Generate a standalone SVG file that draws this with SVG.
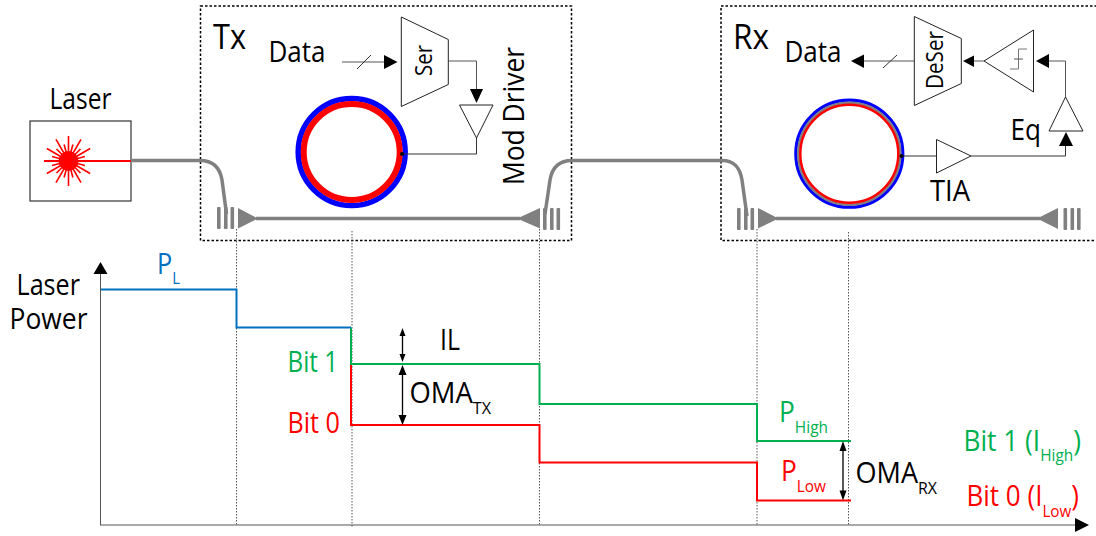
<svg xmlns="http://www.w3.org/2000/svg" xmlns:xlink="http://www.w3.org/1999/xlink" width="1096" height="536" viewBox="0 0 1096 536">
<style>
text{font-family:"Open Sans","Noto Sans",sans-serif;fill:#000}
.s27{font-size:29px}.s16{font-size:17px}.s21{font-size:23px}
tspan.sub{font-size:17px}
.g{fill:#00b050}.r{fill:#f00}.b{fill:#0070c0}
.box{fill:none;stroke:#000;stroke-width:1.5;stroke-dasharray:2.5 2}
.fib{fill:none;stroke:#808080;stroke-width:3.5}
.gc{fill:#808080}
.el{fill:#fff;stroke:#222;stroke-width:1}
.w{fill:none;stroke:#333;stroke-width:1}
.w2{fill:none;stroke:#555;stroke-width:1}
.ah{fill:#000}
.dot{fill:none;stroke:#555;stroke-width:1;stroke-dasharray:1.5 1.5}
.lvl{fill:none;stroke-width:2}
.ray{stroke:#f00;stroke-width:1.6}
</style>
<defs>
<g id="bars"><rect x="0" y="0" width="3.6" height="22" rx="1"/><rect x="7" y="0" width="3.6" height="22" rx="1"/><rect x="13.5" y="0" width="3.6" height="22" rx="1"/></g>
</defs>

<g id="tx-box"><rect class="box" x="200.500" y="6" width="371" height="234.500"/>
<text x="213" y="49" style="font-size:35px" textLength="33" lengthAdjust="spacingAndGlyphs">Tx</text></g>
<g id="rx-box"><rect class="box" x="721" y="6" width="400" height="234.500"/>
<text x="733" y="49" style="font-size:35px" textLength="36" lengthAdjust="spacingAndGlyphs">Rx</text></g>

<g id="tx-ring">
<circle cx="351.700" cy="152" r="53.500" fill="none" stroke="#00f" stroke-width="5.500"/>
<circle cx="351.700" cy="152" r="48" fill="#fff" stroke="#f00" stroke-width="6"/>
</g>
<g id="rx-ring">
<circle cx="849.300" cy="153.700" r="53.500" fill="none" stroke="#00f" stroke-width="3.200"/>
<circle cx="849.300" cy="153.700" r="51" fill="none" stroke="#808080" stroke-width="2.500"/>
<circle cx="849.300" cy="153.700" r="49" fill="#fff" stroke="#f00" stroke-width="2.500"/>
</g>

<g id="laser">
<rect x="30" y="121" width="101" height="80" fill="#fff" stroke="#333" stroke-width="1.200"/>
<text class="s27" x="49.500" y="109" textLength="62" lengthAdjust="spacingAndGlyphs">Laser</text>
<g transform="translate(68.500,161)">
<circle r="10" fill="#f00"/>
<line class="ray" x2="25"/><line class="ray" x2="25" transform="rotate(30)"/><line class="ray" x2="25" transform="rotate(60)"/><line class="ray" x2="25" transform="rotate(90)"/><line class="ray" x2="25" transform="rotate(120)"/><line class="ray" x2="25" transform="rotate(150)"/><line class="ray" x2="25" transform="rotate(210)"/><line class="ray" x2="25" transform="rotate(240)"/><line class="ray" x2="25" transform="rotate(270)"/><line class="ray" x2="25" transform="rotate(300)"/><line class="ray" x2="25" transform="rotate(330)"/>
<line class="ray" x2="17" transform="rotate(15)"/><line class="ray" x2="17" transform="rotate(45)"/><line class="ray" x2="17" transform="rotate(75)"/><line class="ray" x2="17" transform="rotate(105)"/><line class="ray" x2="17" transform="rotate(135)"/><line class="ray" x2="17" transform="rotate(165)"/><line class="ray" x2="17" transform="rotate(195)"/><line class="ray" x2="17" transform="rotate(225)"/><line class="ray" x2="17" transform="rotate(255)"/><line class="ray" x2="17" transform="rotate(285)"/><line class="ray" x2="17" transform="rotate(315)"/><line class="ray" x2="17" transform="rotate(345)"/>
</g>
<line x1="44" y1="161" x2="131" y2="161" stroke="#f00" stroke-width="2"/>
</g>

<g id="connectors">
<path class="fib" d="M131 160.500H200C213 160.500 220 168 222 180L226.500 214"/>
<path class="fib" d="M545 214L550 180C552 168 559 160.500 572 160.500H722C735 160.500 740 168 742 180L747 216"/>
<path class="fib" d="M256 218.500H520"/>
<path class="fib" d="M776 218.500H1040"/>

<path class="w2" d="M342 62H385"/><path class="w" d="M357 69L371 55"/><path class="ah" d="M397.500 62L384 55V69Z"/>
<path class="w2" d="M448.500 61H476.500V92"/><path class="ah" d="M476.500 103L470 89H483Z"/>
<path class="w" d="M476.500 138V154H402"/>
<circle class="ah" cx="402" cy="154" r="2"/>

<path class="w2" d="M914 61H862"/><path class="w" d="M883 68L897 55"/><path class="ah" d="M851 61L864 54.500V68Z"/>
<path class="w2" d="M984 61H972"/><path class="ah" d="M963 61L974 55.500V67Z"/>
<path class="w2" d="M1047 61H1065.500V97"/><path class="ah" d="M1036 61L1049 54V68Z"/>
<path class="w" d="M971 156H1065.500V144"/><path class="ah" d="M1066 132L1059 146H1073Z"/>
<path class="w" d="M936.500 156H901.500"/>
<circle class="ah" cx="901.500" cy="156" r="2"/>
</g>

<g id="tx-grating-left" class="gc"><use xlink:href="#bars" href="#bars" x="217" y="207"/><path d="M238 208L258 218.500L238 228.500Z"/></g>
<g id="tx-grating-right" class="gc"><use xlink:href="#bars" href="#bars" x="543" y="208"/><path d="M540 208L517 218.500L540 228.500Z"/></g>
<g id="rx-grating-left" class="gc"><use xlink:href="#bars" href="#bars" x="737" y="208"/><path d="M758 208L778.500 218.500L758 228.500Z"/></g>
<g id="rx-grating-right" class="gc"><use xlink:href="#bars" href="#bars" x="1063.500" y="208"/><path d="M1058 208L1037 218.500L1058 229Z"/></g>

<g id="tx-data"><text class="s27" x="268.500" y="62" textLength="57" lengthAdjust="spacingAndGlyphs">Data</text></g>
<g id="ser"><path class="el" d="M401.300 17L448.300 39.500V84.500L401.300 106.500Z"/>
<text class="s21" transform="translate(432,76) rotate(-90)" textLength="31" lengthAdjust="spacingAndGlyphs">Ser</text></g>
<g id="mod-driver"><path class="el" d="M459.500 105H493L476.500 138Z"/>
<text class="s27" transform="translate(524,185) rotate(-90)" textLength="138" lengthAdjust="spacingAndGlyphs">Mod Driver</text></g>

<g id="rx-data"><text class="s27" x="784.500" y="62" textLength="57" lengthAdjust="spacingAndGlyphs">Data</text></g>
<g id="deser"><path class="el" d="M914.300 16.500L961.300 38.500V83.500L914.300 105.500Z"/>
<text class="s21" transform="translate(943,89) rotate(-90)" textLength="58" lengthAdjust="spacingAndGlyphs">DeSer</text></g>
<g id="limiter"><path class="el" d="M984 61L1033.500 30V92Z"/>
<path d="M1010 69H1018.500V49H1027" fill="none" stroke="#777" stroke-width="1"/><path d="M1014 59H1023" stroke="#555" stroke-width="1"/></g>
<g id="eq"><path class="el" d="M1065.500 97L1049 131H1083Z"/>
<text class="s27" x="1010.500" y="140" textLength="30.500" lengthAdjust="spacingAndGlyphs">Eq</text></g>
<g id="tia"><path class="el" d="M936.500 139.500L971 156L936.500 173Z"/>
<text class="s27" x="930" y="201" textLength="40" lengthAdjust="spacingAndGlyphs">TIA</text></g>

<g id="chart">
<path class="dot" d="M236.500 229V525M352 231V527M539.500 229V525M757 229V525M848.500 232V525"/>
<path class="w2" d="M100.500 525V270" stroke="#333"/><path class="ah" d="M100.500 262L93.500 274H107.500Z"/>
<path class="w2" d="M100 525H1078" stroke="#555"/><path class="ah" d="M1089 525L1075 518V532Z"/>
<path class="lvl" stroke="#f00" d="M351 364V425H539.500V462.500H757V500.500H851"/>
<path class="lvl" stroke="#00b050" d="M351 327.500V364H539.500V404H757V441H851"/>
<path class="lvl" stroke="#0070c0" d="M101 289.500H236.500V327.500H351"/>
<path class="ah" d="M402.500 328L399.500 336H405.500ZM402.500 362L399.500 354H405.500ZM402.500 365L398.500 375H406.500ZM402.500 425L398.500 415H406.500ZM843 441L839.500 451H846.500ZM843 500.500L839.500 490.500H846.500Z"/>
<path d="M402.500 333V357M402.500 370V420M843 446V495" fill="none" stroke="#000" stroke-width="1.300"/>

<text class="s27" x="16.500" y="295" textLength="63.500" lengthAdjust="spacingAndGlyphs">Laser</text>
<text class="s27" x="9.500" y="329" textLength="78" lengthAdjust="spacingAndGlyphs">Power</text>
<text class="s27 b" x="157" y="274" textLength="23" lengthAdjust="spacingAndGlyphs">P<tspan class="sub" dy="10">L</tspan></text>
<text class="s27 g" x="287.500" y="372" textLength="50.500" lengthAdjust="spacingAndGlyphs">Bit 1</text>
<text class="s27 r" x="287.500" y="433" textLength="52.500" lengthAdjust="spacingAndGlyphs">Bit 0</text>
<text class="s27" x="440" y="350" textLength="20" lengthAdjust="spacingAndGlyphs">IL</text>
<text class="s27" x="409.500" y="403" textLength="81.500" lengthAdjust="spacingAndGlyphs">OMA<tspan class="sub" dy="11">TX</tspan></text>
<text class="s27 g" x="779" y="422" textLength="49" lengthAdjust="spacingAndGlyphs">P<tspan class="sub" dy="11">High</tspan></text>
<text class="s27 r" x="781" y="481" textLength="45" lengthAdjust="spacingAndGlyphs">P<tspan class="sub" dy="11">Low</tspan></text>
<text class="s27" x="855.500" y="483" textLength="81.500" lengthAdjust="spacingAndGlyphs">OMA<tspan class="sub" dy="11">RX</tspan></text>
<text class="s27 g" x="963.500" y="451" textLength="117.500" lengthAdjust="spacingAndGlyphs">Bit 1 (I<tspan class="sub" dy="10">High</tspan><tspan dy="-10">)</tspan></text>
<text class="s27 r" x="966.500" y="506" textLength="112.500" lengthAdjust="spacingAndGlyphs">Bit 0 (I<tspan class="sub" dy="11">Low</tspan><tspan dy="-11">)</tspan></text>
</g>
</svg>
